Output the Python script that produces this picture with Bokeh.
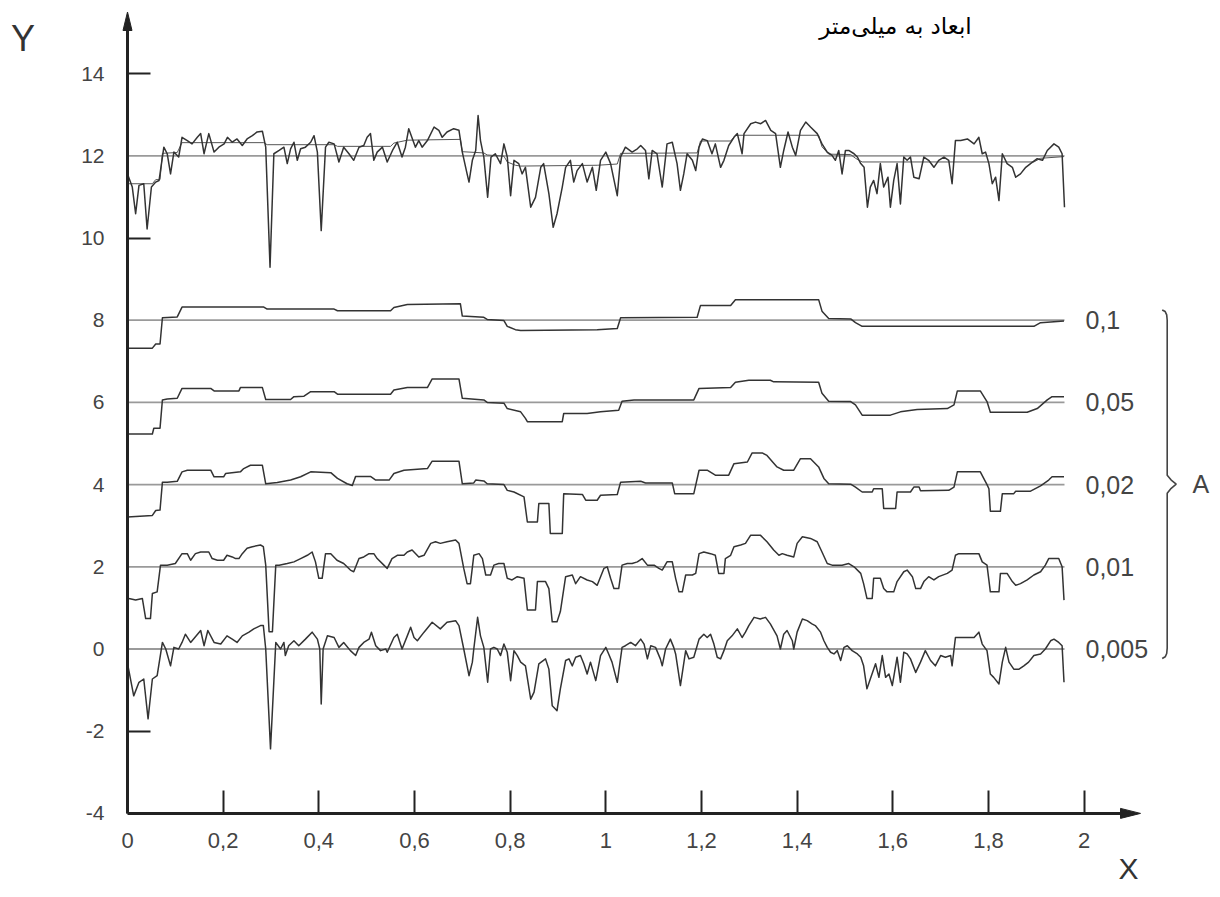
from bokeh.plotting import figure
from bokeh.models import LinearAxis, FixedTicker, CustomJSTickFormatter, Label, Range1d
from bokeh.core.properties import value
from bokeh.embed import file_html
from bokeh.resources import INLINE

# ---------------- data ----------------
raw_profile = [
    (0.000, 11.56), (0.010, 11.24), (0.017, 10.59), (0.024, 11.28), (0.034, 11.32), (0.041, 10.22), (0.050, 11.24),
    (0.059, 11.36), (0.066, 11.40), (0.076, 12.21), (0.083, 12.05), (0.090, 11.56), (0.097, 12.09), (0.107, 11.97),
    (0.114, 12.45), (0.125, 12.37), (0.135, 12.29), (0.146, 12.45), (0.153, 12.54), (0.160, 12.05), (0.170, 12.54),
    (0.181, 12.09), (0.191, 12.21), (0.202, 12.29), (0.209, 12.45), (0.219, 12.33), (0.229, 12.41), (0.240, 12.25),
    (0.250, 12.41), (0.261, 12.49), (0.271, 12.58), (0.282, 12.60), (0.289, 12.21), (0.298, 9.29), (0.306, 12.05),
    (0.317, 12.13), (0.327, 12.21), (0.334, 11.81), (0.341, 12.17), (0.348, 12.33), (0.355, 11.89), (0.362, 12.17),
    (0.372, 12.21), (0.383, 12.33), (0.390, 12.49), (0.397, 12.09), (0.405, 10.18), (0.414, 12.21), (0.421, 12.33),
    (0.432, 12.29), (0.442, 11.85), (0.452, 12.21), (0.463, 12.05), (0.473, 11.89), (0.484, 12.21), (0.494, 12.25),
    (0.501, 12.45), (0.508, 12.54), (0.515, 11.89), (0.522, 12.09), (0.533, 12.21), (0.543, 11.85), (0.554, 12.13),
    (0.564, 12.33), (0.574, 11.97), (0.581, 12.21), (0.588, 12.66), (0.602, 12.21), (0.609, 12.37), (0.616, 12.21),
    (0.627, 12.37), (0.641, 12.70), (0.651, 12.62), (0.658, 12.45), (0.668, 12.58), (0.682, 12.66), (0.693, 12.62),
    (0.700, 12.09), (0.710, 11.56), (0.714, 11.36), (0.721, 11.89), (0.728, 12.13), (0.733, 12.98), (0.738, 12.37),
    (0.745, 11.97), (0.753, 10.99), (0.760, 11.97), (0.769, 12.05), (0.780, 11.81), (0.787, 12.29), (0.794, 11.97),
    (0.801, 11.03), (0.808, 11.89), (0.818, 11.81), (0.825, 11.56), (0.832, 11.72), (0.843, 10.75), (0.853, 10.99),
    (0.864, 11.72), (0.870, 11.81), (0.881, 11.08), (0.890, 10.26), (0.898, 10.59), (0.909, 11.24), (0.916, 11.72),
    (0.926, 11.89), (0.933, 11.36), (0.940, 11.64), (0.951, 11.81), (0.961, 11.36), (0.972, 11.72), (0.980, 11.16),
    (0.989, 11.89), (1.000, 12.09), (1.010, 11.81), (1.024, 11.03), (1.031, 11.97), (1.041, 12.21), (1.055, 12.09),
    (1.066, 12.17), (1.073, 12.25), (1.083, 12.13), (1.090, 11.44), (1.097, 12.13), (1.107, 12.05), (1.118, 11.24),
    (1.128, 12.29), (1.139, 12.33), (1.149, 11.81), (1.156, 11.16), (1.163, 11.56), (1.170, 12.05), (1.181, 11.89),
    (1.188, 11.64), (1.195, 12.21), (1.202, 12.41), (1.212, 12.37), (1.222, 12.05), (1.229, 12.29), (1.240, 11.72),
    (1.247, 11.89), (1.257, 12.25), (1.268, 12.45), (1.275, 12.54), (1.285, 12.05), (1.289, 12.54), (1.303, 12.78),
    (1.313, 12.82), (1.324, 12.78), (1.334, 12.86), (1.345, 12.62), (1.355, 12.54), (1.365, 11.72), (1.372, 12.13),
    (1.381, 12.58), (1.390, 12.21), (1.397, 12.01), (1.407, 12.62), (1.418, 12.82), (1.428, 12.70), (1.442, 12.54),
    (1.452, 12.29), (1.463, 12.09), (1.473, 12.01), (1.480, 11.89), (1.487, 12.13), (1.494, 11.56), (1.501, 12.13),
    (1.508, 12.13), (1.519, 12.05), (1.526, 11.97), (1.533, 11.81), (1.540, 11.72), (1.547, 10.75), (1.553, 11.24),
    (1.560, 11.40), (1.567, 11.08), (1.574, 11.81), (1.581, 11.24), (1.590, 11.48), (1.595, 10.75), (1.602, 11.40),
    (1.609, 11.81), (1.616, 10.83), (1.623, 11.97), (1.630, 11.89), (1.637, 11.97), (1.644, 11.48), (1.655, 11.44),
    (1.665, 11.97), (1.675, 11.89), (1.686, 11.72), (1.696, 11.89), (1.707, 11.97), (1.717, 11.89), (1.724, 11.32),
    (1.731, 12.37), (1.742, 12.37), (1.756, 12.41), (1.770, 12.29), (1.780, 12.45), (1.787, 12.05), (1.794, 12.09),
    (1.801, 11.81), (1.808, 11.32), (1.815, 11.48), (1.822, 10.91), (1.829, 12.05), (1.839, 11.81), (1.850, 11.72),
    (1.857, 11.48), (1.867, 11.56), (1.878, 11.72), (1.888, 11.81), (1.902, 11.93), (1.913, 11.89), (1.923, 12.13),
    (1.937, 12.29), (1.947, 12.21), (1.954, 12.05), (1.959, 10.75),
]

cut_0_1 = [
    (0.000, 7.32), (0.052, 7.32), (0.059, 7.42), (0.068, 7.42), (0.073, 8.06), (0.104, 8.08), (0.114, 8.32),
    (0.285, 8.32), (0.292, 8.27), (0.432, 8.27), (0.439, 8.23), (0.550, 8.23), (0.557, 8.31), (0.585, 8.38),
    (0.696, 8.40), (0.700, 8.10), (0.745, 8.07), (0.752, 8.02), (0.787, 7.99), (0.794, 7.85), (0.811, 7.77),
    (0.822, 7.75), (0.982, 7.77), (1.024, 7.80), (1.031, 8.06), (1.191, 8.07), (1.198, 8.36), (1.261, 8.36),
    (1.271, 8.50), (1.445, 8.50), (1.452, 8.22), (1.466, 8.04), (1.512, 8.03), (1.522, 7.94), (1.536, 7.85),
    (1.895, 7.85), (1.909, 7.94), (1.958, 7.98),
]

cut_0_05 = [
    (0.000, 5.23), (0.052, 5.23), (0.055, 5.37), (0.068, 5.37), (0.073, 6.06), (0.083, 6.08), (0.104, 6.10),
    (0.114, 6.34), (0.174, 6.34), (0.181, 6.28), (0.233, 6.28), (0.236, 6.36), (0.282, 6.36), (0.289, 6.07),
    (0.341, 6.07), (0.348, 6.14), (0.369, 6.15), (0.383, 6.26), (0.432, 6.26), (0.439, 6.20), (0.550, 6.20),
    (0.557, 6.30), (0.585, 6.36), (0.627, 6.36), (0.637, 6.57), (0.693, 6.57), (0.700, 6.10), (0.745, 6.06),
    (0.752, 6.00), (0.787, 5.98), (0.794, 5.85), (0.822, 5.77), (0.832, 5.61), (0.836, 5.53), (0.909, 5.53),
    (0.912, 5.73), (0.961, 5.73), (0.989, 5.77), (1.027, 5.81), (1.034, 6.03), (1.059, 6.06), (1.184, 6.06),
    (1.195, 6.34), (1.261, 6.36), (1.271, 6.49), (1.299, 6.54), (1.344, 6.54), (1.351, 6.50), (1.445, 6.49),
    (1.452, 6.22), (1.466, 6.03), (1.512, 6.02), (1.522, 5.94), (1.536, 5.69), (1.595, 5.69), (1.616, 5.77),
    (1.651, 5.83), (1.714, 5.85), (1.728, 5.94), (1.735, 6.28), (1.783, 6.28), (1.797, 6.02), (1.804, 5.76),
    (1.881, 5.76), (1.902, 5.85), (1.923, 6.06), (1.933, 6.14), (1.958, 6.14),
]

cut_0_02 = [
    (0.000, 3.21), (0.052, 3.25), (0.059, 3.37), (0.068, 3.38), (0.073, 4.06), (0.083, 4.06), (0.104, 4.08),
    (0.114, 4.31), (0.125, 4.35), (0.174, 4.35), (0.181, 4.19), (0.201, 4.19), (0.205, 4.27), (0.236, 4.31),
    (0.243, 4.39), (0.257, 4.47), (0.282, 4.47), (0.289, 4.02), (0.313, 4.05), (0.341, 4.11), (0.362, 4.19),
    (0.383, 4.31), (0.425, 4.29), (0.439, 4.15), (0.459, 4.02), (0.470, 3.98), (0.477, 4.20), (0.508, 4.20),
    (0.519, 4.11), (0.547, 4.11), (0.557, 4.27), (0.578, 4.35), (0.627, 4.39), (0.637, 4.57), (0.693, 4.57),
    (0.700, 4.02), (0.724, 4.04), (0.728, 4.11), (0.745, 4.09), (0.752, 4.02), (0.787, 4.00), (0.794, 3.86),
    (0.808, 3.82), (0.829, 3.70), (0.836, 3.09), (0.857, 3.09), (0.860, 3.54), (0.881, 3.54), (0.884, 2.81),
    (0.909, 2.81), (0.912, 3.78), (0.951, 3.76), (0.958, 3.62), (0.982, 3.62), (0.989, 3.74), (1.024, 3.76),
    (1.031, 4.06), (1.073, 4.08), (1.083, 4.04), (1.139, 4.04), (1.144, 3.78), (1.184, 3.78), (1.195, 4.35),
    (1.212, 4.35), (1.229, 4.23), (1.257, 4.23), (1.268, 4.51), (1.296, 4.55), (1.306, 4.77), (1.327, 4.77),
    (1.337, 4.71), (1.358, 4.43), (1.372, 4.35), (1.393, 4.35), (1.407, 4.63), (1.428, 4.63), (1.445, 4.43),
    (1.456, 4.15), (1.466, 4.02), (1.512, 4.01), (1.522, 3.94), (1.536, 3.82), (1.557, 3.82), (1.560, 3.90),
    (1.578, 3.90), (1.581, 3.42), (1.606, 3.42), (1.609, 3.82), (1.637, 3.82), (1.644, 3.94), (1.655, 3.94),
    (1.658, 3.85), (1.717, 3.86), (1.728, 3.94), (1.735, 4.31), (1.783, 4.31), (1.797, 4.00), (1.801, 3.90),
    (1.804, 3.35), (1.825, 3.35), (1.829, 3.78), (1.853, 3.78), (1.857, 3.84), (1.888, 3.84), (1.909, 3.97),
    (1.926, 4.11), (1.933, 4.19), (1.958, 4.19),
]

cut_0_01 = [
    (0.000, 1.25), (0.003, 1.23), (0.017, 1.19), (0.031, 1.23), (0.038, 0.74), (0.048, 0.74), (0.052, 1.35),
    (0.062, 1.39), (0.069, 2.04), (0.083, 2.04), (0.100, 2.08), (0.114, 2.32), (0.125, 2.32), (0.132, 2.16),
    (0.142, 2.32), (0.153, 2.36), (0.170, 2.36), (0.177, 2.20), (0.188, 2.16), (0.201, 2.16), (0.208, 2.28),
    (0.219, 2.24), (0.226, 2.20), (0.233, 2.20), (0.240, 2.32), (0.250, 2.45), (0.261, 2.49), (0.278, 2.53),
    (0.284, 2.49), (0.289, 2.04), (0.296, 0.42), (0.303, 0.42), (0.310, 2.04), (0.317, 2.04), (0.334, 2.08),
    (0.348, 2.12), (0.362, 2.20), (0.376, 2.28), (0.386, 2.36), (0.393, 2.12), (0.400, 1.72), (0.407, 1.72),
    (0.414, 2.32), (0.425, 2.32), (0.438, 2.16), (0.452, 2.08), (0.466, 1.92), (0.473, 1.88), (0.484, 2.20),
    (0.494, 2.24), (0.505, 2.32), (0.515, 2.32), (0.522, 2.20), (0.536, 2.04), (0.543, 1.96), (0.553, 2.20),
    (0.564, 2.28), (0.578, 2.28), (0.585, 2.36), (0.595, 2.41), (0.609, 2.24), (0.620, 2.28), (0.634, 2.57),
    (0.644, 2.61), (0.654, 2.57), (0.668, 2.61), (0.686, 2.65), (0.693, 2.57), (0.703, 1.96), (0.710, 1.59),
    (0.717, 1.59), (0.724, 2.28), (0.735, 2.32), (0.742, 2.20), (0.749, 1.80), (0.759, 1.80), (0.766, 2.04),
    (0.776, 2.08), (0.787, 2.08), (0.794, 1.72), (0.804, 1.68), (0.815, 1.76), (0.829, 1.72), (0.836, 0.95),
    (0.853, 0.95), (0.857, 1.64), (0.874, 1.64), (0.881, 1.47), (0.888, 0.66), (0.898, 0.66), (0.905, 0.91),
    (0.916, 1.76), (0.930, 1.80), (0.937, 1.59), (0.947, 1.76), (0.961, 1.68), (0.972, 1.64), (0.982, 1.55),
    (0.996, 1.96), (1.003, 2.00), (1.010, 1.72), (1.017, 1.47), (1.027, 1.47), (1.034, 2.04), (1.045, 2.08),
    (1.055, 2.08), (1.066, 2.12), (1.076, 2.20), (1.087, 2.04), (1.101, 2.04), (1.111, 1.96), (1.118, 1.92),
    (1.128, 2.12), (1.139, 2.12), (1.146, 1.72), (1.153, 1.39), (1.160, 1.39), (1.167, 1.80), (1.181, 1.80),
    (1.188, 1.84), (1.195, 2.32), (1.205, 2.36), (1.219, 2.32), (1.229, 2.28), (1.236, 1.84), (1.247, 1.84),
    (1.250, 2.20), (1.261, 2.28), (1.268, 2.49), (1.282, 2.53), (1.292, 2.57), (1.303, 2.77), (1.323, 2.77),
    (1.337, 2.61), (1.351, 2.41), (1.362, 2.28), (1.369, 2.32), (1.379, 2.28), (1.393, 2.24), (1.400, 2.57),
    (1.411, 2.73), (1.428, 2.69), (1.442, 2.61), (1.452, 2.36), (1.463, 2.08), (1.473, 2.04), (1.494, 2.04),
    (1.508, 2.08), (1.519, 2.00), (1.533, 1.84), (1.539, 1.59), (1.546, 1.23), (1.557, 1.23), (1.560, 1.72),
    (1.574, 1.72), (1.581, 1.47), (1.588, 1.39), (1.602, 1.39), (1.609, 1.64), (1.623, 1.88), (1.630, 1.92),
    (1.641, 1.76), (1.648, 1.47), (1.658, 1.47), (1.665, 1.64), (1.675, 1.76), (1.686, 1.68), (1.696, 1.76),
    (1.714, 1.84), (1.724, 1.92), (1.731, 2.28), (1.738, 2.32), (1.756, 2.32), (1.780, 2.32), (1.787, 2.12),
    (1.797, 2.04), (1.804, 1.39), (1.822, 1.39), (1.825, 1.84), (1.839, 1.84), (1.850, 1.64), (1.857, 1.55),
    (1.867, 1.59), (1.881, 1.68), (1.895, 1.80), (1.909, 1.88), (1.919, 2.04), (1.926, 2.20), (1.933, 2.20),
    (1.947, 2.20), (1.954, 2.00), (1.958, 1.19),
]

cut_0_005 = [
    (0.000, -0.35), (0.003, -0.53), (0.013, -1.14), (0.024, -0.81), (0.034, -0.73), (0.043, -1.70), (0.052, -0.73),
    (0.062, -0.65), (0.073, 0.16), (0.080, 0.00), (0.090, -0.41), (0.097, 0.04), (0.107, 0.00), (0.114, 0.16),
    (0.121, 0.36), (0.132, 0.16), (0.153, 0.45), (0.160, 0.08), (0.168, 0.45), (0.181, 0.16), (0.195, 0.12),
    (0.208, 0.32), (0.219, 0.24), (0.229, 0.16), (0.240, 0.32), (0.254, 0.41), (0.264, 0.49), (0.278, 0.57),
    (0.284, 0.57), (0.289, 0.00), (0.299, -2.43), (0.310, 0.16), (0.320, 0.00), (0.327, 0.16), (0.330, -0.16),
    (0.337, 0.08), (0.348, 0.20), (0.358, 0.08), (0.372, 0.24), (0.386, 0.41), (0.397, 0.24), (0.402, 0.00),
    (0.405, -1.34), (0.409, 0.00), (0.418, 0.32), (0.432, 0.28), (0.442, 0.04), (0.452, 0.16), (0.466, -0.04),
    (0.477, -0.16), (0.484, 0.04), (0.494, 0.16), (0.505, 0.24), (0.510, 0.41), (0.519, 0.08), (0.529, -0.04),
    (0.540, 0.00), (0.543, -0.08), (0.557, 0.28), (0.564, 0.36), (0.574, 0.00), (0.585, 0.32), (0.592, 0.53),
    (0.599, 0.28), (0.606, 0.20), (0.620, 0.41), (0.637, 0.65), (0.654, 0.49), (0.668, 0.65), (0.686, 0.69),
    (0.693, 0.57), (0.703, 0.00), (0.714, -0.65), (0.721, -0.32), (0.724, 0.00), (0.732, 0.77), (0.738, 0.32),
    (0.745, 0.04), (0.753, -0.81), (0.759, 0.00), (0.766, 0.04), (0.773, 0.00), (0.780, -0.16), (0.787, 0.12),
    (0.794, -0.08), (0.801, -0.77), (0.808, -0.04), (0.815, -0.16), (0.822, -0.32), (0.832, -0.41), (0.843, -1.22),
    (0.850, -1.05), (0.860, -0.36), (0.874, -0.24), (0.881, -0.49), (0.888, -1.38), (0.898, -1.50), (0.905, -0.97),
    (0.916, -0.28), (0.923, -0.24), (0.930, -0.41), (0.937, -0.20), (0.947, -0.16), (0.954, -0.36), (0.961, -0.61),
    (0.968, -0.32), (0.979, -0.77), (0.989, -0.16), (1.000, 0.04), (1.006, -0.12), (1.013, -0.32), (1.024, -0.81),
    (1.034, 0.04), (1.041, 0.08), (1.052, 0.16), (1.062, 0.08), (1.073, 0.24), (1.080, 0.12), (1.087, -0.24),
    (1.094, 0.08), (1.104, 0.04), (1.114, -0.24), (1.118, -0.41), (1.125, 0.00), (1.135, 0.24), (1.142, 0.04),
    (1.146, -0.12), (1.156, -0.89), (1.167, -0.04), (1.174, -0.24), (1.184, -0.20), (1.195, 0.24), (1.205, 0.36),
    (1.212, 0.28), (1.219, 0.36), (1.226, 0.12), (1.233, -0.20), (1.240, -0.24), (1.247, -0.04), (1.254, 0.20),
    (1.264, 0.32), (1.275, 0.49), (1.285, 0.28), (1.292, 0.41), (1.299, 0.57), (1.310, 0.77), (1.323, 0.73),
    (1.334, 0.77), (1.344, 0.61), (1.358, 0.32), (1.365, 0.00), (1.372, 0.36), (1.379, 0.45), (1.390, 0.20),
    (1.393, 0.00), (1.400, 0.41), (1.411, 0.73), (1.421, 0.69), (1.431, 0.61), (1.438, 0.57), (1.449, 0.41),
    (1.456, 0.20), (1.463, 0.04), (1.470, -0.08), (1.477, -0.12), (1.484, -0.04), (1.491, -0.28), (1.498, 0.04),
    (1.505, 0.08), (1.515, -0.04), (1.526, -0.12), (1.533, -0.20), (1.539, -0.41), (1.546, -0.97), (1.553, -0.73),
    (1.564, -0.36), (1.571, -0.69), (1.578, -0.16), (1.585, -0.69), (1.592, -0.61), (1.599, -0.89), (1.609, -0.20),
    (1.616, -0.81), (1.623, -0.08), (1.630, -0.12), (1.637, -0.24), (1.648, -0.57), (1.658, -0.32), (1.668, -0.04),
    (1.679, -0.28), (1.689, -0.41), (1.700, -0.16), (1.710, -0.20), (1.721, -0.16), (1.724, -0.41), (1.731, 0.28),
    (1.742, 0.28), (1.756, 0.28), (1.770, 0.28), (1.780, 0.41), (1.787, 0.12), (1.797, -0.04), (1.804, -0.61),
    (1.811, -0.69), (1.822, -0.85), (1.829, -0.32), (1.836, 0.04), (1.843, -0.32), (1.853, -0.49), (1.864, -0.49),
    (1.874, -0.41), (1.884, -0.32), (1.895, -0.16), (1.909, -0.12), (1.919, 0.00), (1.930, 0.20), (1.937, 0.24),
    (1.947, 0.16), (1.954, 0.08), (1.958, -0.81),
]

base_levels = [12, 8, 6, 4, 2, 0]          # reference line of each profile
filter_labels = ["0,1", "0,05", "0,02", "0,01", "0,005"]
filter_levels = [8, 6, 4, 2, 0]
y_ticks = [-4, -2, 0, 2, 4, 6, 8, 10, 12, 14]
y_tick_marks = [-2, 10, 14]
x_ticks = [0, 0.2, 0.4, 0.6, 0.8, 1.0, 1.2, 1.4, 1.6, 1.8, 2.0]
title_text = "ابعاد به میلی\u200cمتر"
bracket_text = "A"

# ---------------- layout (pixel geometry) ----------------
W, H = 1220, 897
SX, SY = 478.3, 41.1          # px per data unit
X0, Y0 = 127.0, 648.5         # px of data (0, 0)


def dx(px):
    return (px - X0) / SX


def dy(py):
    return (Y0 - py) / SY


INK = "#222222"
LINE = "#333333"
GREY = "#9a9a9a"
TXT = "#444444"
FONT = "Liberation Sans"

p = figure(width=W, height=H,
           x_range=Range1d(dx(0), dx(W)), y_range=Range1d(dy(H), dy(0)),
           x_axis_type=None, y_axis_type=None,
           output_backend="svg", toolbar_location=None,
           min_border=0, min_border_left=0, min_border_right=0,
           min_border_top=0, min_border_bottom=0)
p.outline_line_color = None
p.background_fill_color = "white"
p.border_fill_color = "white"

y_min = min(y_ticks)
y_arrow_base, y_arrow_tip = dy(30), dy(11.5)
x_arrow_base, x_arrow_tip = dx(1120), dx(1140)

# y axis: labels + line
yax = LinearAxis(fixed_location=0, bounds=(y_min, y_arrow_base),
                 ticker=FixedTicker(ticks=y_ticks),
                 formatter=CustomJSTickFormatter(code="return tick.toString();"),
                 major_tick_line_color=None, minor_tick_line_color=None,
                 major_tick_in=0, major_tick_out=0,
                 axis_line_width=3, axis_line_color=INK,
                 major_label_standoff=23,
                 major_label_text_font=FONT, major_label_text_font_size="21px",
                 major_label_text_color=TXT)
p.add_layout(yax, "left")
# y axis: visible tick marks
ytk = LinearAxis(fixed_location=0, bounds=(y_min, y_arrow_base),
                 ticker=FixedTicker(ticks=y_tick_marks),
                 axis_line_color=None, minor_tick_line_color=None,
                 major_tick_in=23, major_tick_out=0,
                 major_tick_line_width=2, major_tick_line_color=INK,
                 major_label_text_color=None, major_label_text_font_size="1px")
p.add_layout(ytk, "left")

xax = LinearAxis(fixed_location=y_min, bounds=(0, x_arrow_base),
                 ticker=FixedTicker(ticks=x_ticks),
                 formatter=CustomJSTickFormatter(code="const v = Math.round(tick*10)/10; return v.toString().replace('.', ',');"),
                 minor_tick_line_color=None,
                 major_tick_in=23, major_tick_out=0,
                 major_tick_line_width=2, major_tick_line_color=INK,
                 axis_line_width=3, axis_line_color=INK,
                 major_label_standoff=20,
                 major_label_text_font=FONT, major_label_text_font_size="22px",
                 major_label_text_color=TXT)
p.add_layout(xax, "below")

# arrow heads
hw_x = 4.5 / SX
hw_y = 5.0 / SY
p.patch([-hw_x, 0, hw_x], [y_arrow_base, y_arrow_tip, y_arrow_base], fill_color=INK, line_color=INK, line_width=1)
p.patch([x_arrow_base, x_arrow_tip, x_arrow_base], [y_min + hw_y, y_min, y_min - hw_y], fill_color=INK, line_color=INK, line_width=1)

# reference lines
x_end = max(x for x, _ in raw_profile)
p.segment(x0=[0] * len(base_levels), x1=[x_end] * len(base_levels), y0=base_levels, y1=base_levels,
          line_color=GREY, line_width=1.8)


def xs(series):
    return [x for x, _ in series]


def ys(series, shift=0.0):
    return [y + shift for _, y in series]


# 0.1 profile also overlaid on the raw profile
p.line(xs(cut_0_1), ys(cut_0_1, base_levels[0] - base_levels[1]), line_color="#555555", line_width=1.0)

for series in (raw_profile, cut_0_1, cut_0_05, cut_0_02, cut_0_01, cut_0_005):
    p.line(xs(series), ys(series), line_color=LINE, line_width=1.5, line_join="round")

# filter labels
label_x = dx(1085)
p.text(x=[label_x] * len(filter_levels), y=filter_levels, text=filter_labels,
       text_font=value(FONT), text_font_size=value("25px"), text_color=TXT,
       text_align="left", text_baseline="middle")

# curly bracket
bx = dx(1166.7)
top = max(filter_levels) + 0.25
bot = min(filter_levels) - 0.23
mid = (top + bot) / 2
px1 = 1.0 / SX
p.line([bx - 5 * px1, bx - 2 * px1, bx - 0.5 * px1, bx, bx, bx + 4 * px1, bx + 9 * px1, bx + 4 * px1, bx, bx,
        bx - 0.5 * px1, bx - 2 * px1, bx - 5 * px1],
       [top, top - 0.04, top - 0.12, top - 0.25, mid + 0.22, mid + 0.1, mid, mid - 0.1, mid - 0.22, bot + 0.25,
        bot + 0.12, bot + 0.04, bot],
       line_color=TXT, line_width=1.6)
p.text(x=[dx(1192)], y=[mid], text=[bracket_text], text_font=value(FONT), text_font_size=value("25px"),
       text_color=TXT, text_align="left", text_baseline="middle")

# axis names and title
p.add_layout(Label(x=dx(22.5), y=dy(38), text="Y", text_align="center", text_baseline="alphabetic",
                   text_font=FONT, text_font_size="36px", text_color="#333333"))
p.add_layout(Label(x=dx(1128), y=dy(868), text="X", text_align="center", text_baseline="middle",
                   text_font=FONT, text_font_size="30px", text_color="#333333"))
p.add_layout(Label(x=dx(895), y=dy(25), text=title_text, text_align="center", text_baseline="middle",
                   text_font="DejaVu Sans", text_font_size="23px", text_color="#000000"))

open("out.html", "w").write(file_html(p, INLINE))
